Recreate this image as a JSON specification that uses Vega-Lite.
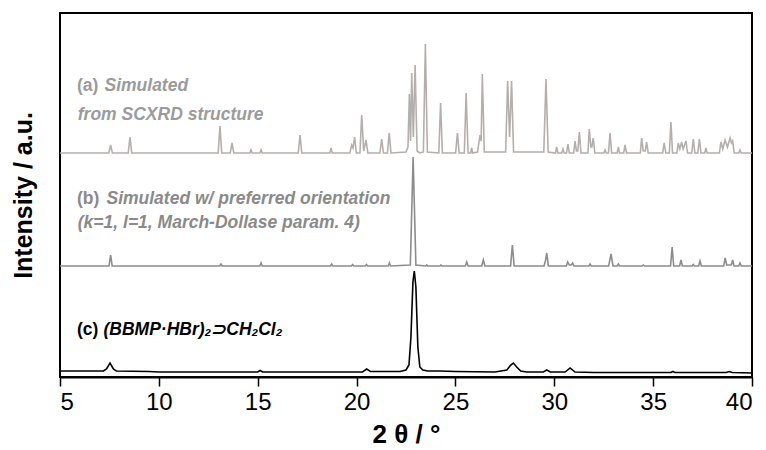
{
"$schema": "https://vega.github.io/schema/vega-lite/v6.json",
"width": 692, "height": 364,
"autosize": {"type": "none"},
"padding": {"left": 60, "top": 13, "right": 14, "bottom": 73},
"config": {"view": {"stroke": "black", "strokeWidth": 2}, "font": "Liberation Sans"},
"datasets": {
"lines": [
{"s":"a","x":5,"y":224},
{"s":"a","x":7.47,"y":224},{"s":"a","x":7.56,"y":232},{"s":"a","x":7.65,"y":224},
{"s":"a","x":8.45,"y":224},{"s":"a","x":8.54,"y":240},{"s":"a","x":8.63,"y":224},
{"s":"a","x":13.0,"y":224},{"s":"a","x":13.09,"y":251},{"s":"a","x":13.18,"y":224},
{"s":"a","x":13.61,"y":224},{"s":"a","x":13.7,"y":234},{"s":"a","x":13.79,"y":224},
{"s":"a","x":14.6,"y":224},{"s":"a","x":14.66,"y":227},{"s":"a","x":14.72,"y":224},
{"s":"a","x":15.11,"y":224},{"s":"a","x":15.17,"y":227},{"s":"a","x":15.23,"y":224},
{"s":"a","x":17.05,"y":224},{"s":"a","x":17.14,"y":242},{"s":"a","x":17.23,"y":224},
{"s":"a","x":18.65,"y":224},{"s":"a","x":18.71,"y":229},{"s":"a","x":18.77,"y":224},
{"s":"a","x":19.66,"y":224},{"s":"a","x":19.75,"y":232},{"s":"a","x":19.82,"y":229},{"s":"a","x":19.9,"y":240},{"s":"a","x":19.99,"y":224},
{"s":"a","x":20.17,"y":224},{"s":"a","x":20.26,"y":262},{"s":"a","x":20.36,"y":226},{"s":"a","x":20.48,"y":237},{"s":"a","x":20.57,"y":224},
{"s":"a","x":21.18,"y":224},{"s":"a","x":21.27,"y":238},{"s":"a","x":21.36,"y":224},
{"s":"a","x":21.56,"y":224},{"s":"a","x":21.65,"y":244},{"s":"a","x":21.74,"y":224},
{"s":"a","x":22.5,"y":225},{"s":"a","x":22.6,"y":230},{"s":"a","x":22.67,"y":283},{"s":"a","x":22.73,"y":236},{"s":"a","x":22.79,"y":304},{"s":"a","x":22.87,"y":240},{"s":"a","x":22.96,"y":312},{"s":"a","x":23.06,"y":226},{"s":"a","x":23.2,"y":224},
{"s":"a","x":23.38,"y":225},{"s":"a","x":23.48,"y":333},{"s":"a","x":23.58,"y":225},
{"s":"a","x":24.16,"y":224},{"s":"a","x":24.25,"y":274},{"s":"a","x":24.34,"y":224},
{"s":"a","x":25.01,"y":224},{"s":"a","x":25.1,"y":244},{"s":"a","x":25.19,"y":224},
{"s":"a","x":25.45,"y":224},{"s":"a","x":25.54,"y":284},{"s":"a","x":25.64,"y":224},
{"s":"a","x":25.77,"y":224},{"s":"a","x":25.82,"y":229},{"s":"a","x":25.87,"y":224},
{"s":"a","x":26.12,"y":225},{"s":"a","x":26.24,"y":242},{"s":"a","x":26.3,"y":236},{"s":"a","x":26.36,"y":303},{"s":"a","x":26.46,"y":225},
{"s":"a","x":27.54,"y":225},{"s":"a","x":27.64,"y":296},{"s":"a","x":27.74,"y":240},{"s":"a","x":27.84,"y":296},{"s":"a","x":27.94,"y":225},
{"s":"a","x":29.47,"y":225},{"s":"a","x":29.58,"y":298},{"s":"a","x":29.69,"y":225},
{"s":"a","x":30.06,"y":224},{"s":"a","x":30.12,"y":230},{"s":"a","x":30.18,"y":224},
{"s":"a","x":30.38,"y":224},{"s":"a","x":30.44,"y":228},{"s":"a","x":30.5,"y":224},
{"s":"a","x":30.62,"y":224},{"s":"a","x":30.69,"y":233},{"s":"a","x":30.76,"y":224},
{"s":"a","x":30.98,"y":224},{"s":"a","x":31.05,"y":236},{"s":"a","x":31.12,"y":226},{"s":"a","x":31.19,"y":226},{"s":"a","x":31.27,"y":245},{"s":"a","x":31.35,"y":224},
{"s":"a","x":31.7,"y":224},{"s":"a","x":31.77,"y":248},{"s":"a","x":31.85,"y":230},{"s":"a","x":31.9,"y":230},{"s":"a","x":31.97,"y":239},{"s":"a","x":32.05,"y":224},
{"s":"a","x":32.51,"y":224},{"s":"a","x":32.57,"y":227},{"s":"a","x":32.63,"y":224},
{"s":"a","x":32.74,"y":224},{"s":"a","x":32.82,"y":244},{"s":"a","x":32.9,"y":224},
{"s":"a","x":33.18,"y":224},{"s":"a","x":33.24,"y":230},{"s":"a","x":33.3,"y":224},
{"s":"a","x":33.51,"y":224},{"s":"a","x":33.58,"y":232},{"s":"a","x":33.65,"y":224},
{"s":"a","x":34.35,"y":224},{"s":"a","x":34.42,"y":239},{"s":"a","x":34.5,"y":226},{"s":"a","x":34.6,"y":226},{"s":"a","x":34.67,"y":235},{"s":"a","x":34.75,"y":224},
{"s":"a","x":35.48,"y":224},{"s":"a","x":35.56,"y":234},{"s":"a","x":35.64,"y":224},{"s":"a","x":35.82,"y":224},{"s":"a","x":35.9,"y":255},{"s":"a","x":35.98,"y":224},
{"s":"a","x":36.2,"y":224},{"s":"a","x":36.27,"y":234},{"s":"a","x":36.35,"y":228},{"s":"a","x":36.44,"y":235},{"s":"a","x":36.52,"y":228},{"s":"a","x":36.66,"y":236},{"s":"a","x":36.74,"y":224},
{"s":"a","x":36.95,"y":224},{"s":"a","x":37.03,"y":238},{"s":"a","x":37.11,"y":224},{"s":"a","x":37.26,"y":224},{"s":"a","x":37.34,"y":238},{"s":"a","x":37.42,"y":224},
{"s":"a","x":37.61,"y":224},{"s":"a","x":37.67,"y":229},{"s":"a","x":37.73,"y":224},
{"s":"a","x":38.35,"y":224},{"s":"a","x":38.43,"y":235},{"s":"a","x":38.52,"y":228},{"s":"a","x":38.64,"y":237},{"s":"a","x":38.76,"y":230},{"s":"a","x":38.89,"y":239},{"s":"a","x":38.96,"y":234},{"s":"a","x":39.02,"y":236},{"s":"a","x":39.1,"y":224},
{"s":"a","x":39.33,"y":224},{"s":"a","x":39.39,"y":227},{"s":"a","x":39.45,"y":224},
{"s":"a","x":40,"y":224},

{"s":"b","x":5,"y":111},
{"s":"b","x":7.48,"y":111},{"s":"b","x":7.56,"y":122},{"s":"b","x":7.64,"y":111},
{"s":"b","x":13.08,"y":111},{"s":"b","x":13.14,"y":113},{"s":"b","x":13.2,"y":111},
{"s":"b","x":15.11,"y":111},{"s":"b","x":15.17,"y":114},{"s":"b","x":15.23,"y":111},
{"s":"b","x":18.68,"y":111},{"s":"b","x":18.74,"y":113},{"s":"b","x":18.8,"y":111},
{"s":"b","x":19.74,"y":111},{"s":"b","x":19.8,"y":112.5},{"s":"b","x":19.86,"y":111},
{"s":"b","x":20.44,"y":111},{"s":"b","x":20.5,"y":112.5},{"s":"b","x":20.56,"y":111},
{"s":"b","x":21.6,"y":111},{"s":"b","x":21.66,"y":114},{"s":"b","x":21.72,"y":111},
{"s":"b","x":22.72,"y":112},{"s":"b","x":22.86,"y":220},{"s":"b","x":23.0,"y":112},
{"s":"b","x":23.5,"y":111},{"s":"b","x":23.55,"y":112},{"s":"b","x":23.6,"y":111},
{"s":"b","x":24.22,"y":111},{"s":"b","x":24.27,"y":112},{"s":"b","x":24.32,"y":111},
{"s":"b","x":25.5,"y":111},{"s":"b","x":25.57,"y":115},{"s":"b","x":25.64,"y":111},
{"s":"b","x":26.33,"y":111},{"s":"b","x":26.41,"y":117},{"s":"b","x":26.49,"y":111},
{"s":"b","x":27.79,"y":111},{"s":"b","x":27.88,"y":132},{"s":"b","x":27.97,"y":111},
{"s":"b","x":29.48,"y":111},{"s":"b","x":29.55,"y":116},{"s":"b","x":29.62,"y":124},{"s":"b","x":29.7,"y":111},
{"s":"b","x":30.61,"y":111},{"s":"b","x":30.68,"y":115},{"s":"b","x":30.76,"y":112},{"s":"b","x":30.86,"y":112},{"s":"b","x":30.93,"y":114},{"s":"b","x":31.0,"y":111},
{"s":"b","x":31.75,"y":111},{"s":"b","x":31.81,"y":113},{"s":"b","x":31.87,"y":111},
{"s":"b","x":32.75,"y":111},{"s":"b","x":32.87,"y":123},{"s":"b","x":32.97,"y":111},
{"s":"b","x":33.18,"y":111},{"s":"b","x":33.24,"y":113},{"s":"b","x":33.3,"y":111},
{"s":"b","x":34.44,"y":111},{"s":"b","x":34.5,"y":112},{"s":"b","x":34.56,"y":111},
{"s":"b","x":35.88,"y":111},{"s":"b","x":35.96,"y":130},{"s":"b","x":36.04,"y":111},
{"s":"b","x":36.34,"y":111},{"s":"b","x":36.41,"y":117},{"s":"b","x":36.48,"y":111},
{"s":"b","x":36.97,"y":111},{"s":"b","x":37.03,"y":112.5},{"s":"b","x":37.09,"y":111},
{"s":"b","x":37.3,"y":111},{"s":"b","x":37.37,"y":116},{"s":"b","x":37.44,"y":111},
{"s":"b","x":38.57,"y":111},{"s":"b","x":38.64,"y":119},{"s":"b","x":38.72,"y":112},{"s":"b","x":38.95,"y":112},{"s":"b","x":39.02,"y":117},{"s":"b","x":39.09,"y":111},
{"s":"b","x":39.33,"y":111},{"s":"b","x":39.39,"y":114},{"s":"b","x":39.46,"y":111},
{"s":"b","x":40,"y":111},

{"s":"c","x":5,"y":6},{"s":"c","x":6,"y":6},{"s":"c","x":7.2,"y":6},
{"s":"c","x":7.35,"y":8},{"s":"c","x":7.53,"y":14},{"s":"c","x":7.7,"y":8},{"s":"c","x":7.85,"y":6},
{"s":"c","x":9.5,"y":5.5},{"s":"c","x":10,"y":5},{"s":"c","x":12,"y":5},
{"s":"c","x":15.0,"y":5},{"s":"c","x":15.12,"y":6.5},{"s":"c","x":15.25,"y":5},
{"s":"c","x":17,"y":5},{"s":"c","x":19,"y":5},
{"s":"c","x":20.3,"y":5},{"s":"c","x":20.51,"y":8},{"s":"c","x":20.7,"y":5.5},
{"s":"c","x":22.2,"y":5.5},{"s":"c","x":22.5,"y":7},{"s":"c","x":22.65,"y":12},{"s":"c","x":22.75,"y":40},{"s":"c","x":22.85,"y":95},{"s":"c","x":22.92,"y":106},{"s":"c","x":23.0,"y":90},{"s":"c","x":23.1,"y":30},{"s":"c","x":23.2,"y":10},{"s":"c","x":23.35,"y":7},{"s":"c","x":23.6,"y":6},
{"s":"c","x":24.2,"y":6},{"s":"c","x":25,"y":5.5},
{"s":"c","x":27.0,"y":5},{"s":"c","x":27.6,"y":7},{"s":"c","x":27.8,"y":12},{"s":"c","x":27.93,"y":14},{"s":"c","x":28.1,"y":10},{"s":"c","x":28.3,"y":6},{"s":"c","x":28.6,"y":5},
{"s":"c","x":29.45,"y":5},{"s":"c","x":29.62,"y":7},{"s":"c","x":29.8,"y":5},
{"s":"c","x":30.55,"y":5},{"s":"c","x":30.8,"y":9},{"s":"c","x":31.05,"y":5},
{"s":"c","x":32,"y":4.5},{"s":"c","x":34,"y":4.5},
{"s":"c","x":35.9,"y":4.5},{"s":"c","x":36.0,"y":5.5},{"s":"c","x":36.1,"y":4.5},
{"s":"c","x":38.7,"y":4.5},{"s":"c","x":38.85,"y":5.5},{"s":"c","x":39.0,"y":4.5},
{"s":"c","x":40,"y":4}
],
"labels": [
{"g":"ta","st":"normal","x":5.86,"y":291,"t":"(a)"},
{"g":"ta","st":"italic","x":7.25,"y":291,"t":"Simulated"},
{"g":"ta","st":"italic","x":5.9,"y":262,"t":"from SCXRD structure"},
{"g":"tb","st":"normal","x":5.86,"y":178,"t":"(b)"},
{"g":"tb","st":"italic","x":7.35,"y":178,"t":"Simulated w/ preferred orientation"},
{"g":"tb","st":"italic","x":5.9,"y":154,"t":"(k=1, l=1, March-Dollase param. 4)"},
{"g":"tc","st":"normal","x":5.86,"y":47,"t":"(c)"},
{"g":"tc","st":"italic","x":7.2,"y":47,"t":"(BBMP·HBr)₂⊃CH₂Cl₂"}
]
},
"layer": [
{
"data": {"name": "lines"},
"mark": {"type": "line", "strokeWidth": 1.6, "interpolate": "linear"},
"encoding": {
"x": {"field": "x", "type": "quantitative",
"scale": {"domain": [5, 40], "nice": false, "zero": false},
"axis": {"values": [5,10,15,20,25,30,35,40], "grid": false, "labelFontSize": 24, "labelColor": "black", "labelFont": "Liberation Sans",
"tickSize": 9, "tickWidth": 1.5, "tickColor": "black", "domainColor": "black", "domainWidth": 2, "labelPadding": 4,
"title": "2 θ / °", "titleFontSize": 26, "titleFontWeight": "bold", "titleColor": "black", "titlePadding": 7, "titleFont": "Liberation Sans"}},
"y": {"field": "y", "type": "quantitative",
"scale": {"domain": [0, 364], "nice": false},
"axis": {"labels": false, "ticks": false, "domain": false, "grid": false,
"title": "Intensity / a.u.", "titleFontSize": 25, "titleFontWeight": "bold", "titleColor": "black", "titlePadding": 24, "titleFont": "Liberation Sans"}},
"color": {"field": "s", "type": "nominal",
"scale": {"domain": ["a","b","c","ta","tb","tc"], "range": ["#b4afac","#8c8c8c","#000000","#9b9b9b","#8a8a8a","#000000"]},
"legend": null}
}
},
{
"data": {"name": "labels"},
"transform": [{"filter": "datum.st === 'normal'"}],
"mark": {"type": "text", "align": "left", "baseline": "middle", "fontSize": 17.5, "fontWeight": "bold", "fontStyle": "normal", "font": "Liberation Sans"},
"encoding": {
"x": {"field": "x", "type": "quantitative"},
"y": {"field": "y", "type": "quantitative"},
"text": {"field": "t"},
"color": {"field": "g", "type": "nominal", "legend": null}
}
},
{
"data": {"name": "labels"},
"transform": [{"filter": "datum.st === 'italic'"}],
"mark": {"type": "text", "align": "left", "baseline": "middle", "fontSize": 17.5, "fontWeight": "bold", "fontStyle": "italic", "font": "Liberation Sans"},
"encoding": {
"x": {"field": "x", "type": "quantitative"},
"y": {"field": "y", "type": "quantitative"},
"text": {"field": "t"},
"color": {"field": "g", "type": "nominal", "legend": null}
}
}
]
}
